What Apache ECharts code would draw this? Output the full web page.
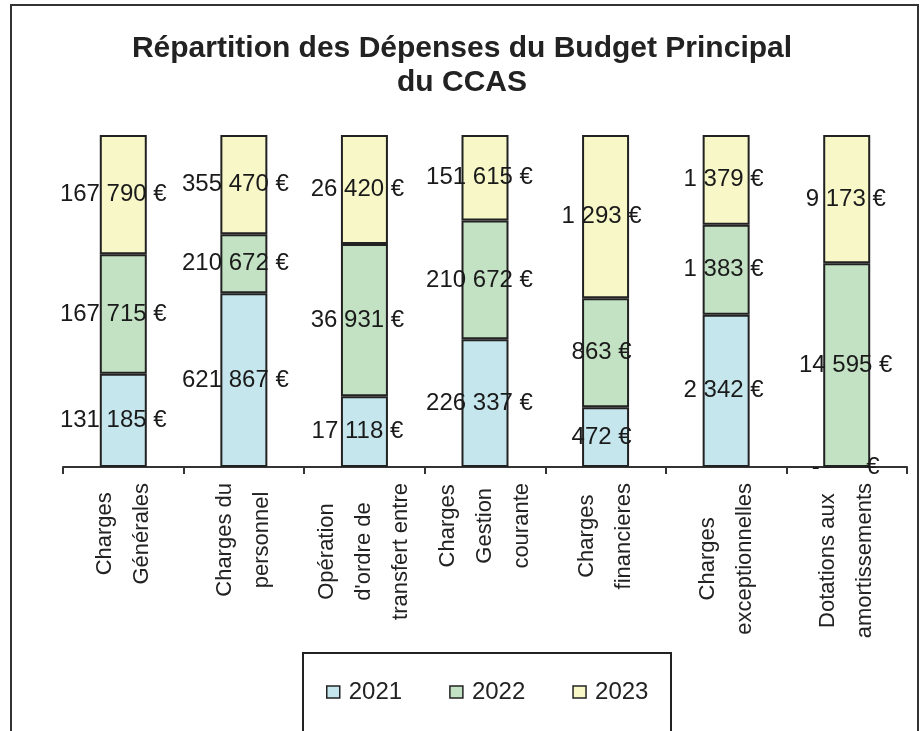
<!DOCTYPE html>
<html>
<head>
<meta charset="utf-8">
<script src="https://cdn.jsdelivr.net/npm/echarts@6/dist/echarts.min.js"></script>
<style>
  html, body { margin: 0; padding: 0; background: #fff; }
  #chart { width: 924px; height: 731px; }
</style>
</head>
<body>
<div id="chart"></div>
<script>
// catégories (axe X)
const categories = [
  'Charges\nGénérales',
  'Charges du\npersonnel',
  "Opération\nd'ordre de\ntransfert entre",
  'Charges\nGestion\ncourante',
  'Charges\nfinancieres',
  'Charges\nexceptionnelles',
  'Dotations aux\namortissements'
]
const years = ['2021', '2022', '2023']
// montants en euros
const values2021 = [131185, 621867, 17118, 226337, 472, 2342, 0]
const values2022 = [167715, 210672, 36931, 210672, 863, 1383, 14595]
const values2023 = [167790, 355470, 26420, 151615, 1293, 1379, 9173]

const colors = ['#C4E6EC', '#C3E1C3', '#F7F7C8']
const font = "'Liberation Sans', Arial, sans-serif"

const allValues = [values2021, values2022, values2023]
// total par catégorie -> barres empilées à 100 %
const totals = categories.map((c, i) => allValues.reduce((s, arr) => s + arr[i], 0))

function euro (v) {
  if (v === 0) return '-       €'
  return String(v).replace(/\B(?=(\d{3})+(?!\d))/g, ' ') + ' €'
}

const series = allValues.map((vals, s) => ({
  name: years[s],
  type: 'bar',
  stack: 'total',
  barWidth: 47,
  itemStyle: { color: colors[s], borderColor: '#222', borderWidth: 2 },
  label: {
    show: true,
    position: 'inside',
    fontFamily: font,
    fontSize: 24,
    color: '#1a1a1a',
    formatter: p => euro(vals[p.dataIndex])
  },
  data: vals.map((v, i) => ({
    value: totals[i] ? v / totals[i] * 100 : 0,
    label: { offset: [-10 + 1.5 * i, 0] } // petit décalage comme dans Excel
  }))
}))

const chart = echarts.init(document.getElementById('chart'))
chart.setOption({
  backgroundColor: '#fff',
  animation: false,
  color: colors,
  title: {
    text: 'Répartition des Dépenses du Budget Principal\ndu CCAS',
    left: 'center',
    top: 27,
    textStyle: {
      fontFamily: font,
      fontSize: 30,
      fontWeight: 'bold',
      color: '#222',
      lineHeight: 34
    }
  },
  legend: {
    data: years,
    left: 326,
    top: 680,
    padding: 0,
    icon: 'rect',
    itemWidth: 13,
    itemHeight: 12,
    itemGap: 47,
    itemStyle: { borderColor: '#222', borderWidth: 1.5 },
    textStyle: { fontFamily: font, fontSize: 24, color: '#222', padding: [0, 0, 0, 4] }
  },
  grid: { left: 63, right: 17, top: 135, bottom: 264 },
  xAxis: {
    type: 'category',
    data: categories,
    axisLine: { lineStyle: { color: '#333', width: 2 } },
    axisTick: { show: true, length: 7, lineStyle: { color: '#333', width: 2 } },
    axisLabel: {
      interval: 0,
      rotate: 90,
      margin: 16,
      fontFamily: font,
      fontSize: 22,
      lineHeight: 37,
      color: '#222',
      formatter: v => v.split('\n').map(l => '{c|' + l + '}').join('\n'),
      rich: {
        c: { align: 'center', fontFamily: font, fontSize: 22, lineHeight: 37, color: '#222' }
      }
    }
  },
  yAxis: { type: 'value', min: 0, max: 100, show: false },
  graphic: [
    {
      type: 'rect',
      z: -1,
      shape: { x: 11, y: 5, width: 907, height: 780 },
      style: { fill: 'none', stroke: '#333', lineWidth: 2 }
    },
    {
      type: 'rect',
      z: -1,
      shape: { x: 303, y: 653, width: 368, height: 120 },
      style: { fill: 'none', stroke: '#222', lineWidth: 2 }
    }
  ],
  series: series
})
</script>
</body>
</html>
